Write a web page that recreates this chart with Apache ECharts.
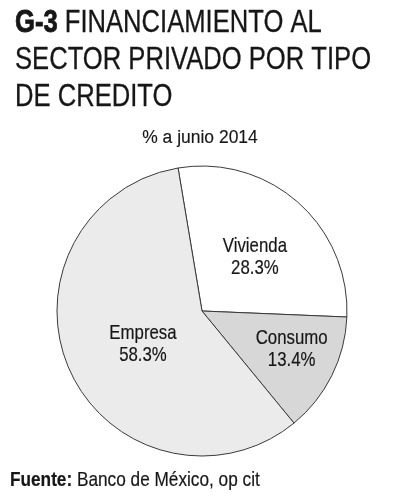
<!DOCTYPE html>
<html>
<head>
<meta charset="utf-8">
<script src="https://cdn.jsdelivr.net/npm/echarts@6/dist/echarts.min.js"></script>
<style>
html,body{margin:0;padding:0;background:#fff;}
#chart{width:393px;height:500px;}
</style>
</head>
<body>
<div id="chart"></div>
<script>
var categories = ['Vivienda', 'Consumo', 'Empresa'];
var values = [28.3, 13.4, 58.3];
var colors = ['#ffffff', '#d7d7d7', '#ebebeb'];
var titleCode = 'G-3';
var titleLines = ['FINANCIAMIENTO AL', 'SECTOR PRIVADO POR TIPO', 'DE CREDITO'];
var subtitle = '% a junio 2014';
var sourceLabel = 'Fuente:';
var sourceText = 'Banco de México, op cit';

// label placement style: fraction of radius plus small nudge
var labelRadiusFrac = [0.52, 0.66, 0.47];
var labelNudge = [[3, 3], [4, -4], [3, 5]];

var FONT = '"Liberation Sans", Arial, sans-serif';
var INK = '#161616';

var chart = echarts.init(document.getElementById('chart'), null, {renderer: 'canvas'});
var data = categories.map(function (c, i) {
  return {name: c, value: values[i], itemStyle: {color: colors[i]}};
});

function txt(x, y, text, size, scaleX, opts) {
  opts = opts || {};
  var style = {
    text: text, x: 0, y: 0,
    font: size + 'px ' + FONT,
    fill: INK,
    align: opts.align || 'left',
    verticalAlign: 'middle'
  };
  if (opts.weight) { style.stroke = INK; style.lineWidth = opts.weight; }
  if (opts.lineHeight) style.lineHeight = opts.lineHeight;
  if (opts.rich) style.rich = opts.rich;
  return {type: 'text', x: x, y: y, scaleX: scaleX, z: 100, silent: true, style: style};
}

var titleSize = 32, titleScale = 0.8;
var graphics = [
  txt(15, 23, '{b|' + titleCode + '} ' + titleLines[0], titleSize, titleScale, {
    weight: 0.3,
    rich: {b: {font: 'bold ' + titleSize + 'px ' + FONT, fill: INK, stroke: INK, lineWidth: 0.8}}
  }),
  txt(15, 60, titleLines[1], titleSize, titleScale, {weight: 0.3}),
  txt(15, 97, titleLines[2], titleSize, titleScale, {weight: 0.3}),
  txt(200, 138.5, subtitle, 18, 0.97, {align: 'center', weight: 0.15}),
  txt(10, 480.5, '{b|' + sourceLabel + '} ' + sourceText, 21, 0.82, {
    weight: 0.2,
    rich: {b: {font: 'bold 21px ' + FONT, fill: INK, stroke: INK, lineWidth: 0.2}}
  })
];

chart.setOption({
  backgroundColor: '#ffffff',
  animation: false,
  series: [{
    type: 'pie',
    center: [202, 311],
    radius: [0, 145],
    startAngle: 99.5,
    clockwise: true,
    itemStyle: {borderColor: '#3a3a3a', borderWidth: 1},
    label: {show: false},
    labelLine: {show: false},
    emphasis: {disabled: true},
    data: data
  }]
});

// place slice labels from the pie's own computed layout
var labelGraphics = [];
var sData = chart.getModel().getSeriesByIndex(0).getData();
for (var i = 0; i < categories.length; i++) {
  var lay = sData.getItemLayout(i);
  var mid = (lay.startAngle + lay.endAngle) / 2;
  var rr = lay.r * labelRadiusFrac[i];
  var lx = lay.cx + rr * Math.cos(mid) + labelNudge[i][0];
  var ly = lay.cy + rr * Math.sin(mid) + labelNudge[i][1];
  labelGraphics.push(txt(lx, ly, categories[i] + '\n' + values[i].toFixed(1) + '%', 21, 0.8,
    {align: 'center', lineHeight: 22, weight: 0.2}));
}
chart.setOption({graphic: {z: 100, elements: graphics.concat(labelGraphics)}});
</script>
</body>
</html>
